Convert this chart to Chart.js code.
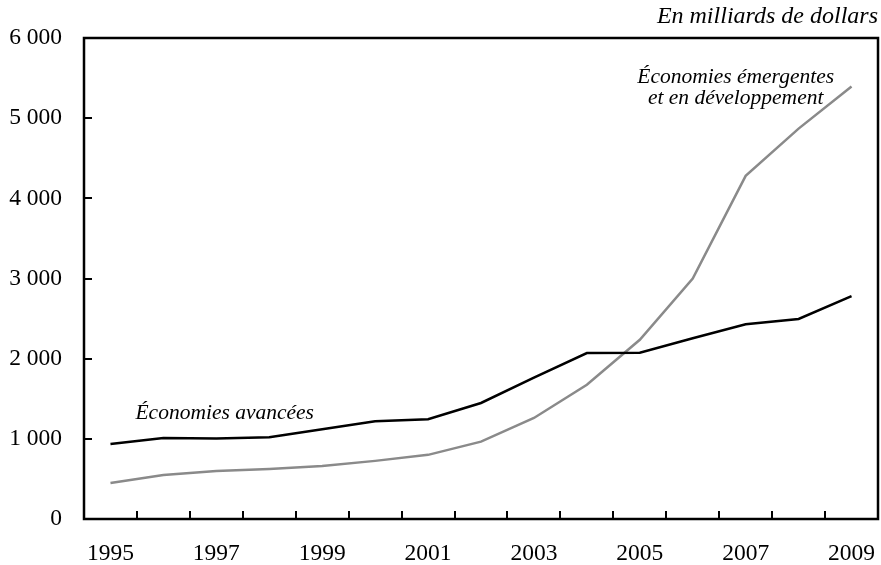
<!DOCTYPE html>
<html>
<head>
<meta charset="utf-8">
<script src="https://cdn.jsdelivr.net/npm/chart.js@4"></script>
<style>
  html, body { margin: 0; padding: 0; background: #fff; }
  #wrap { width: 881px; height: 565px; }
</style>
</head>
<body>
<div id="wrap"><canvas id="chart" width="881" height="565"></canvas></div>
<script>
const years = ["1995", "1996", "1997", "1998", "1999", "2000", "2001", "2002",
  "2003", "2004", "2005", "2006", "2007", "2008", "2009"];
const advanced = [935, 1010, 1005, 1020, 1120, 1220, 1245, 1447, 1765, 2070, 2075, 2255, 2430, 2495, 2780];
const emerging = [450, 550, 600, 625, 660, 725, 800, 965, 1260, 1675, 2235, 3000, 4280, 4870, 5395];
const yTicks = [0, 1000, 2000, 3000, 4000, 5000, 6000];

const serif = "'Liberation Serif', 'Times New Roman', serif";

function fmt(v) {
  return String(v).replace(/\B(?=(\d{3})+(?!\d))/g, " ");
}

// cadre, petites graduations vers l'intérieur et textes
const frame = {
  id: "frame",
  afterDraw(chart) {
    const c = chart.ctx;
    const a = chart.chartArea;
    const x = chart.scales.x;
    const y = chart.scales.y;
    c.save();
    c.strokeStyle = "#000";
    c.lineWidth = 2.5;
    c.strokeRect(a.left, a.top, a.right - a.left, a.bottom - a.top);

    c.lineWidth = 2;
    c.beginPath();
    for (let i = 0; i < years.length - 1; i++) {
      const px = Math.round((x.getPixelForValue(i) + x.getPixelForValue(i + 1)) / 2);
      c.moveTo(px, a.bottom);
      c.lineTo(px, a.bottom - 8);
    }
    yTicks.slice(1, -1).forEach(v => {
      const py = Math.round(y.getPixelForValue(v));
      c.moveTo(a.left, py);
      c.lineTo(a.left + 8, py);
    });
    c.stroke();

    c.fillStyle = "#000";
    c.font = "italic 24px " + serif;
    c.textAlign = "right";
    c.textBaseline = "alphabetic";
    c.fillText("En milliards de dollars", a.right, 23);

    c.font = "italic 21.5px " + serif;
    c.textAlign = "left";
    c.fillText("Économies avancées", x.getPixelForValue(0) + 25, y.getPixelForValue(1250));

    c.textAlign = "center";
    c.fillText("Économies émergentes", x.getPixelForValue(12) - 10, y.getPixelForValue(5440));
    c.fillText("et en développement", x.getPixelForValue(12) - 10, y.getPixelForValue(5175));
    c.restore();
  }
};

new Chart(document.getElementById("chart"), {
  type: "line",
  data: {
    labels: years,
    datasets: [
      {
        label: "Économies avancées",
        data: advanced,
        borderColor: "#000000",
        borderWidth: 2.5,
        pointRadius: 0,
        tension: 0
      },
      {
        label: "Économies émergentes et en développement",
        data: emerging,
        borderColor: "#8a8a8a",
        borderWidth: 2.5,
        pointRadius: 0,
        tension: 0
      }
    ]
  },
  options: {
    responsive: false,
    animation: false,
    layout: { padding: { top: 38, right: 3, left: 0, bottom: 0 } },
    plugins: {
      legend: { display: false },
      tooltip: { enabled: false }
    },
    scales: {
      x: {
        offset: true,
        grid: { display: false, offset: true },
        border: { display: false },
        ticks: {
          autoSkip: false,
          maxRotation: 0,
          padding: 13,
          color: "#000",
          font: { family: serif, size: 23.5 },
          callback: (v, i) => (i % 2 === 0 ? years[i] : "")
        },
        afterFit: s => { s.height = 46; s.paddingLeft = 0; s.paddingRight = 0; }
      },
      y: {
        min: 0,
        max: 6000,
        grid: { display: false },
        border: { display: false },
        afterBuildTicks: s => { s.ticks = yTicks.map(v => ({ value: v })); },
        ticks: {
          padding: 14,
          color: "#000",
          font: { family: serif, size: 23.5 },
          callback: v => fmt(v)
        },
        afterFit: s => { s.width = 84; s.paddingTop = 0; s.paddingBottom = 0; }
      }
    }
  },
  plugins: [frame]
});
</script>
</body>
</html>
